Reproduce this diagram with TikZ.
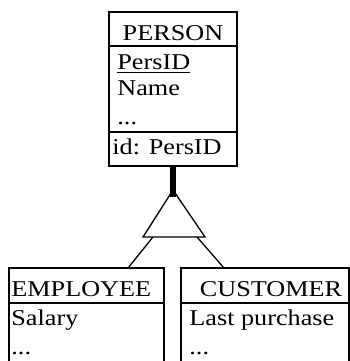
\documentclass[tikz,border=0pt]{standalone}
\usepackage{fontspec}
\setmainfont{Liberation Serif}[FakeStretch=1.16]
\usetikzlibrary{positioning}

\tikzset{
  lbl/.style={inner sep=0pt, anchor=base west, font=\fontsize{11.3}{13}\selectfont},
  title/.style={lbl, anchor=base},
  entity/.style={draw, line width=0.55pt, inner sep=0pt},
  sep/.style={line width=1pt},
  link/.style={line width=0.65pt}
}

\begin{document}
\begin{tikzpicture}[x=0.5pt, y=-0.5pt]
  \useasboundingbox (0,0) rectangle (350,361);
  \clip (0,0) rectangle (350,361);

  % PERSON (top)
  \node[entity, minimum width=64pt, minimum height=77pt] (personbox) at (173,89) {};
  \draw[sep] (109,46) -- (237,46);
  \draw[sep] (109,132) -- (237,132);
  \node[title] (person) at (173,40) {PERSON};
  \node[lbl] (persid) at (117,69) {\underline{PersID}};
  \node[lbl] (pname) at (117,95) {Name};
  \node[lbl] (pdots) at (117,124) {...};
  \node[lbl] (pid) at (112,154) {id: PersID};

  % ISA triangle
  \coordinate (apex) at (173,190);
  \coordinate (bl) at (143,237);
  \coordinate (br) at (205,237);
  \draw[link, line join=miter] (apex) -- (bl) -- (br) -- cycle;
  \coordinate (isa) at (173,197);
  \draw[line width=2.8pt] (personbox.south) -- (isa);

  % EMPLOYEE (left)
  \node[entity, minimum width=77.5pt, minimum height=100pt] (empbox) at (86.5,368) {};
  \draw[sep] (9,303) -- (164,303);
  \node[lbl] (employee) at (11,296) {EMPLOYEE};
  \node[lbl] (salary) at (11,325) {Salary};
  \node[lbl] (edots) at (11,354) {...};

  % CUSTOMER (right)
  \node[entity, minimum width=84pt, minimum height=100pt] (custbox) at (265,368) {};
  \draw[sep] (181,303) -- (349,303);
  \node[title] (customer) at (271,296) {CUSTOMER};
  \node[lbl] (lastp) at (189,325) {Last purchase};
  \node[lbl] (cdots) at (189,354) {...};

  % legs
  \coordinate (legl) at (153,237);
  \coordinate (legr) at (197,237);
  \coordinate (empt) at (128,268);
  \coordinate (custt) at (224,268);
  \draw[link] (legl) -- (empt);
  \draw[link] (legr) -- (custt);
\end{tikzpicture}
\end{document}
